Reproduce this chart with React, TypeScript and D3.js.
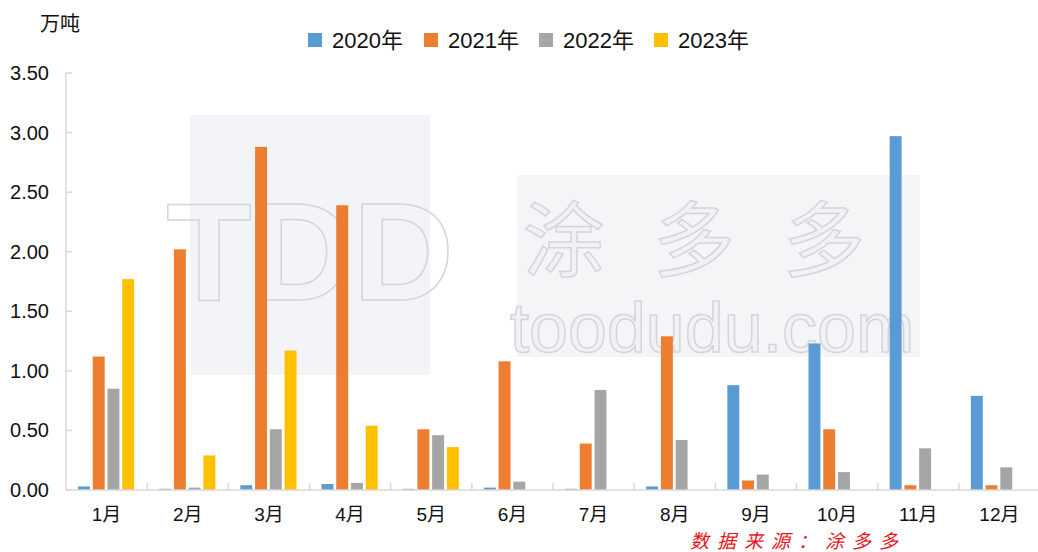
import React from "react";
import * as d3 from "d3";

const months = ["1月", "2月", "3月", "4月", "5月", "6月", "7月", "8月", "9月", "10月", "11月", "12月"];
const seriesNames = ["2020年", "2021年", "2022年", "2023年"];
const colors = ["#5B9BD5", "#ED7D31", "#A5A5A5", "#FFC000"];
const v2020 = [0.03, 0.01, 0.04, 0.05, 0.01, 0.02, 0.01, 0.03, 0.88, 1.23, 2.97, 0.79];
const v2021 = [1.12, 2.02, 2.88, 2.39, 0.51, 1.08, 0.39, 1.29, 0.08, 0.51, 0.04, 0.04];
const v2022 = [0.85, 0.02, 0.51, 0.06, 0.46, 0.07, 0.84, 0.42, 0.13, 0.15, 0.35, 0.19];
const v2023 = [1.77, 0.29, 1.17, 0.54, 0.36, null, null, null, null, null, null, null];
const yTicks = [0, 0.5, 1, 1.5, 2, 2.5, 3, 3.5];
const seriesValues = [v2020, v2021, v2022, v2023];

export default function App() {
  const W = 1038, H = 552;
  const left = 66, right = 1040, top = 73, bottom = 490;
  const x = d3.scaleBand<string>().domain(months).range([left, right]).paddingInner(0).paddingOuter(0);
  const inner = d3.scaleBand<string>().domain(seriesNames).range([12, x.bandwidth() - 13]).paddingInner(0.19).paddingOuter(0);
  const y = d3.scaleLinear().domain([0, 3.5]).range([bottom, top]);
  const sans = "Liberation Sans, Arial, sans-serif";
  const cjk = "'Noto Sans CJK SC', sans-serif";
  const mixed = "Liberation Sans, Arial, 'Noto Sans CJK SC', sans-serif";
  const axisColor = "#D9D9D9";
  const legendX = [308, 424, 539, 654];

  return (
    <svg width={W} height={H} style={{ position: "absolute", left: 0, top: 0, background: "#fff" }}>
      {/* watermark */}
      <rect x={190} y={115} width={240} height={260} fill="#F3F4F7" />
      <rect x={517} y={175} width={403} height={182} fill="#F4F5F7" />
      <g fill="#F1F2F4" stroke="#D4D5D8" strokeWidth={1.5}>
        <text x={310} y={300} textAnchor="middle" fontFamily={sans} fontSize={140} fontWeight="bold" fill="none">TDD</text>
        <text x={718} y={270} textAnchor="middle" fontFamily={cjk} fontSize={82} letterSpacing={48}>涂多多</text>
        <text x={712} y={352} textAnchor="middle" fontFamily={sans} fontSize={70}>toodudu.com</text>
      </g>

      {/* y axis */}
      <line x1={left} x2={left} y1={y(3.5)} y2={bottom} stroke={axisColor} strokeWidth={1.5} />
      {yTicks.map((t) => (
        <g key={t}>
          <line x1={left} x2={left + 6} y1={y(t)} y2={y(t)} stroke={axisColor} strokeWidth={1.5} />
          <text x={49} y={y(t)} dy="0.35em" textAnchor="end" fontFamily={sans} fontSize={20} fill="#111">
            {t.toFixed(2)}
          </text>
        </g>
      ))}

      {/* bars */}
      {seriesValues.map((vals, si) =>
        vals.map((v, mi) =>
          v == null ? null : (
            <rect
              key={si + "-" + mi}
              x={(x(months[mi]) as number) + (inner(seriesNames[si]) as number)}
              y={y(v)}
              width={inner.bandwidth()}
              height={bottom - y(v)}
              fill={colors[si]}
            />
          )
        )
      )}

      {/* x axis */}
      <line x1={left} x2={W} y1={bottom} y2={bottom} stroke={axisColor} strokeWidth={1.5} />
      {months.map((m, i) => (
        <g key={m}>
          {i > 0 && <line x1={x(m) as number} x2={x(m) as number} y1={bottom - 7} y2={bottom} stroke={axisColor} strokeWidth={1.5} />}
          <text x={(x(m) as number) + x.bandwidth() / 2} y={514} dy="0.35em" textAnchor="middle" fontFamily={mixed} fontSize={19} fill="#111">
            {m}
          </text>
        </g>
      ))}

      {/* unit */}
      <text x={40} y={24} dy="0.35em" fontFamily={cjk} fontSize={20} fill="#111">万吨</text>

      {/* legend */}
      {seriesNames.map((s, i) => (
        <g key={s}>
          <rect x={legendX[i]} y={33} width={14} height={14} fill={colors[i]} />
          <text x={legendX[i] + 24} y={40} dy="0.35em" fontFamily={mixed} fontSize={22} fill="#111">{s}</text>
        </g>
      ))}

      {/* source */}
      <text x={690} y={541} dy="0.35em" fontFamily={cjk} fontSize={19} fontStyle="italic" letterSpacing={8} fill="#E8141B">数据来源：涂多多</text>
    </svg>
  );
}
